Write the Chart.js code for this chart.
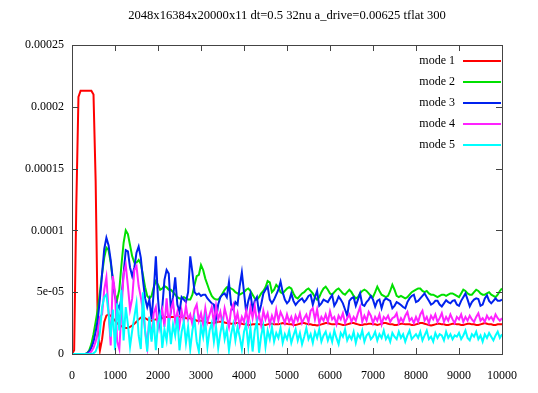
<!DOCTYPE html>
<html>
<head>
<meta charset="utf-8">
<script src="https://cdn.jsdelivr.net/npm/chart.js@4/dist/chart.umd.min.js"></script>
<style>
  html, body { margin: 0; padding: 0; background: #fff; }
  canvas { display: block; }
</style>
</head>
<body>
<canvas id="c" width="538" height="393"></canvas>
<script>
// amplitudes in units of 1e-5, sampled every 50 time units from 0 to 10000
var titleText = '2048x16384x20000x11 dt=0.5 32nu a_drive=0.00625 tflat 300';
var labels = ['mode 1', 'mode 2', 'mode 3', 'mode 4', 'mode 5'];
var colors = ['#ff0000', '#00e000', '#0022ee', '#ff22ff', '#00ffff'];
var yTickValues = [0, 5, 10, 15, 20, 25];
var yTickLabels = ['0', '5e-05', '0.0001', '0.00015', '0.0002', '0.00025'];

var mode1 = [
  0,0.3,12,20.8,21.3,21.3,21.3,21.3,21.3,21.3,21,14,2,0.3,1.2,2.6,3.1,3.2,3.1,2.9,
  2.7,2.5,2.35,2.25,2.15,2.1,2.1,2.2,2.3,2.45,2.6,2.8,2.95,3.0,2.9,2.8,2.7,2.7,2.75,2.8,
  2.8,2.9,2.9,3.0,3.0,3.0,3.0,3.0,3.0,3.0,3.0,3.0,3.0,2.9,2.9,2.9,2.8,2.8,2.7,2.7,
  2.7,2.65,2.6,2.55,2.5,2.5,2.5,2.55,2.6,2.6,2.6,2.55,2.5,2.5,2.45,2.45,2.5,2.5,2.5,2.45,
  2.4,2.4,2.35,2.35,2.4,2.4,2.45,2.4,2.4,2.35,2.35,2.4,2.45,2.45,2.4,2.4,2.4,2.45,2.5,2.45,
  2.45,2.4,2.4,2.35,2.35,2.4,2.45,2.5,2.5,2.45,2.4,2.4,2.35,2.35,2.3,2.35,2.4,2.45,2.5,2.5,
  2.45,2.4,2.4,2.45,2.45,2.4,2.35,2.35,2.4,2.45,2.5,2.5,2.45,2.4,2.35,2.35,2.4,2.4,2.45,2.45,
  2.4,2.4,2.35,2.4,2.45,2.5,2.5,2.45,2.4,2.4,2.35,2.35,2.4,2.45,2.45,2.4,2.4,2.4,2.35,2.35,
  2.4,2.45,2.5,2.5,2.45,2.4,2.35,2.3,2.35,2.4,2.45,2.45,2.4,2.4,2.35,2.35,2.4,2.45,2.45,2.4,
  2.4,2.35,2.35,2.4,2.45,2.45,2.4,2.4,2.35,2.35,2.4,2.45,2.5,2.45,2.4,2.4,2.35,2.35,2.4,2.4,
  2.4
];
var mode2 = [
  0,0,0,0,0,0,0,0.05,0.3,0.8,1.6,2.6,3.6,5.0,6.5,7.8,8.6,8.4,7.4,6.0,
  4.8,4.4,5.2,7.2,9.0,10.0,9.7,8.8,7.9,7.4,7.4,7.6,7.3,6.4,5.4,4.7,4.5,4.7,5.4,5.9,
  5.6,5.2,5.3,5.5,5.4,5.2,5.2,5.0,4.8,4.6,4.5,4.5,4.6,4.5,4.4,4.4,4.8,5.6,6.3,6.4,
  7.2,6.8,6.1,5.6,5.1,4.7,4.5,4.4,4.4,4.6,4.9,5.2,5.4,5.4,5.3,5.2,5.0,4.9,4.8,4.9,
  5.0,5.2,5.3,5.1,4.8,4.5,4.4,4.6,4.9,5.1,5.4,5.9,5.8,5.0,5.2,5.6,5.4,5.0,4.9,5.1,
  5.3,5.4,5.3,4.9,4.6,4.5,4.7,4.9,5.0,5.2,5.3,5.1,4.9,4.6,4.4,4.6,5.0,5.3,5.45,5.2,
  4.9,4.8,5.0,5.2,5.3,5.1,4.9,4.8,5.0,5.2,5.0,4.7,4.5,4.6,4.9,5.1,5.2,5.1,4.9,4.7,
  4.6,5.0,5.45,5.1,4.8,4.7,4.6,4.7,5.1,5.6,5.2,4.7,4.6,4.7,4.6,4.5,4.6,4.8,5.0,5.1,
  5.2,5.3,5.3,5.1,5.0,5.1,4.9,4.8,4.8,4.7,4.6,4.7,4.8,4.8,4.7,4.8,4.9,4.9,4.8,4.7,
  4.6,4.9,5.2,5.1,4.9,4.8,4.8,5.0,5.2,5.1,4.9,4.8,4.8,4.9,5.0,4.8,4.7,4.6,4.8,5.1,
  5.3
];
var mode3 = [
  0,0,0,0,0,0,0,0.05,0.2,0.5,1.0,1.8,2.8,4.5,6.5,8.5,9.4,8.8,7.6,6.0,
  4.6,4.0,3.7,4.5,6.5,8.4,8.3,7.0,6.3,7.0,8.2,8.7,7.8,6.0,4.5,3.8,4.4,2.8,5.0,7.9,
  4.5,2.4,3.8,6.0,6.8,6.5,3.5,4.6,6.2,4.0,3.4,4.6,4.4,4.2,5.0,7.9,6.6,5.0,4.8,4.9,
  4.7,4.8,4.8,4.5,4.3,4.1,4.0,2.8,4.0,4.6,4.8,4.9,4.6,5.8,4.0,3.6,4.2,4.0,5.5,6.6,
  5.0,3.4,4.3,4.9,3.6,4.3,4.6,3.3,4.0,4.9,5.2,5.45,4.4,4.1,4.4,4.8,5.2,5.85,5.0,4.4,
  4.1,4.3,4.9,4.3,3.97,4.2,4.37,4.5,4.2,4.4,4.7,4.8,4.0,4.6,5.1,3.9,4.1,4.4,4.3,4.2,
  4.5,4.77,3.9,4.2,4.64,4.4,4.1,3.6,3.1,4.3,4.5,4.6,3.9,4.4,4.9,4.0,3.9,4.2,4.4,4.7,
  4.4,3.83,4.3,4.4,3.7,4.3,4.5,4.4,4.3,3.7,3.9,4.2,4.1,3.97,3.8,3.7,4.2,4.5,4.7,4.8,
  4.2,4.3,4.5,4.7,4.9,4.6,4.3,4.0,4.1,4.3,4.3,4.0,3.85,4.1,4.35,4.2,4.1,4.3,4.35,4.0,
  3.9,4.3,4.6,4.9,4.4,3.85,4.2,4.4,4.5,4.45,3.9,4.0,4.5,4.75,4.3,4.1,4.3,4.5,4.3,4.3,
  4.4
];
var mode4 = [
  0,0,0,0,0,0,0,0,0.05,0.2,0.5,1.0,1.8,3.0,3.2,5.2,6.2,3.5,0.7,6.3,
  5.0,1.0,0.4,3.5,6.5,7.2,5.5,3.6,4.5,6.8,7.1,5.5,4.6,3.5,1.9,0.6,3.0,1.2,3.3,3.8,
  2.1,3.0,3.6,2.2,4.5,2.4,3.6,4.2,2.6,3.4,2.3,3.5,2.6,3.9,2.8,3.2,2.4,3.6,4.0,2.7,
  3.3,2.4,3.7,2.6,3.2,3.8,2.5,3.9,2.8,3.4,2.4,3.7,3.0,2.2,3.6,4.0,2.6,3.3,2.3,3.0,
  2.6,3.5,2.5,3.8,2.9,3.9,2.6,3.2,2.3,3.5,2.8,3.3,2.4,3.1,2.6,3.6,2.7,3.4,3.0,2.5,
  3.2,2.6,3.0,2.4,3.1,2.7,3.3,2.5,2.9,3.2,2.6,3.5,3.7,2.8,3.6,2.5,3.0,2.7,3.2,2.6,
  3.45,2.8,3.0,2.4,3.1,2.8,3.3,2.5,2.9,3.2,2.6,3.0,2.7,3.3,3.8,2.6,3.1,2.7,3.4,3.1,
  2.5,3.0,2.7,3.2,2.4,3.0,2.8,3.1,2.6,2.9,3.0,3.3,2.5,2.9,2.6,3.1,3.4,2.7,2.9,2.5,
  3.0,2.6,3.2,3.5,2.7,3.0,2.5,3.1,2.8,3.2,2.6,2.9,3.3,2.6,3.0,2.7,3.2,2.8,2.5,3.0,
  2.8,3.2,2.6,3.0,2.7,3.1,2.8,2.6,3.0,3.3,2.7,2.9,2.6,3.1,2.8,3.0,2.7,3.2,2.9,2.7,
  2.9
];
var mode5 = [
  0,0,0,0,0,0,0,0,0,0,0.05,0.2,0.7,1.8,3.8,4.6,4.8,3.3,1.4,3.6,
  0.3,4.1,1.9,5.2,1.1,3.8,2.4,0.6,1.9,3.0,4.1,1.5,0.4,5.0,1.8,0.2,3.0,1.0,2.8,0.3,
  2.5,3.2,0.5,2.0,1.1,2.9,0.8,2.4,1.5,3.0,0.3,1.8,2.6,0.9,2.2,0.4,1.9,2.8,1.0,0.2,
  2.3,1.4,2.7,0.6,1.9,2.5,1.0,2.2,0.5,1.7,2.6,1.2,2.0,0.3,1.6,2.4,1.1,2.2,1.4,0.4,
  1.8,2.4,0.6,2.1,0.2,1.9,2.6,0.1,1.5,2.3,0.6,1.9,1.2,2.2,1.0,1.7,1.3,2.1,0.9,1.6,
  1.2,1.9,0.9,1.5,2.0,1.1,1.7,0.8,1.4,2.1,1.2,1.6,0.9,1.8,1.3,2.0,1.0,1.5,1.8,1.1,
  1.6,1.0,1.9,1.3,0.8,1.7,1.4,2.0,1.1,1.5,1.2,1.8,0.9,1.6,1.3,1.9,1.0,1.5,1.7,1.2,
  1.4,1.8,1.1,1.6,1.3,1.9,1.2,1.5,1.0,1.7,1.4,1.2,1.8,1.3,1.6,1.0,1.5,1.9,1.2,1.4,
  1.6,1.3,1.8,1.1,1.5,1.9,1.2,1.4,1.0,1.7,1.3,1.6,1.5,1.1,1.8,1.3,1.6,1.2,1.5,1.4,
  1.7,1.2,1.5,1.9,1.3,1.1,1.6,1.4,1.8,1.2,1.5,1.0,1.6,1.3,1.7,1.4,1.1,1.5,1.8,1.3,
  1.6
];

var series = [mode1, mode2, mode3, mode4, mode5];
var times = [];
for (var t = 0; t <= 10000; t += 50) times.push(t);

var font = { family: 'Liberation Serif', size: 12, weight: 'normal' };

var datasets = series.map(function (s, k) {
  return {
    label: labels[k],
    data: times.map(function (tt, i) { return { x: tt, y: s[i] }; }),
    borderColor: colors[k],
    borderWidth: 2,
    pointRadius: 0,
    tension: 0,
    fill: false,
    order: 5 - k
  };
});

// gnuplot-ish frame: full border, inward ticks, key on the right
var frame = {
  id: 'frame',
  afterDatasetsDraw: function (chart) {
    var ctx = chart.ctx, a = chart.chartArea;
    var xs = chart.scales.x, ys = chart.scales.y;
    ctx.save();
    ctx.strokeStyle = '#444';
    ctx.lineWidth = 1;
    ctx.strokeRect(Math.round(a.left) + 0.5, Math.round(a.top) + 0.5,
      Math.round(a.right - a.left), Math.round(a.bottom - a.top));
    ctx.beginPath();
    xs.ticks.forEach(function (tk) {
      var px = Math.round(xs.getPixelForValue(tk.value)) + 0.5;
      ctx.moveTo(px, a.bottom); ctx.lineTo(px, a.bottom - 6);
      ctx.moveTo(px, a.top); ctx.lineTo(px, a.top + 6);
    });
    ys.ticks.forEach(function (tk) {
      var py = Math.round(ys.getPixelForValue(tk.value)) + 0.5;
      ctx.moveTo(a.left, py); ctx.lineTo(a.left + 6, py);
      ctx.moveTo(a.right, py); ctx.lineTo(a.right - 6, py);
    });
    ctx.stroke();

    ctx.font = '12px "Liberation Serif"';
    ctx.textAlign = 'right';
    ctx.textBaseline = 'middle';
    chart.data.datasets.forEach(function (ds, k) {
      var y = a.top + 16 + k * 21;
      ctx.fillStyle = '#000';
      ctx.fillText(ds.label, a.right - 47, y);
      ctx.strokeStyle = ds.borderColor;
      ctx.lineWidth = 2;
      ctx.beginPath();
      ctx.moveTo(a.right - 39, y);
      ctx.lineTo(a.right - 1, y);
      ctx.stroke();
    });
    ctx.restore();
  }
};

new Chart(document.getElementById('c'), {
  type: 'line',
  data: { datasets: datasets },
  plugins: [frame],
  options: {
    responsive: false,
    animation: false,
    devicePixelRatio: 1,
    layout: { padding: { left: 0, right: 36, top: 0, bottom: 0 } },
    plugins: {
      legend: { display: false },
      tooltip: { enabled: false },
      title: {
        display: true,
        text: titleText,
        fullSize: false,
        color: '#000',
        font: { family: 'Liberation Serif', size: 12.6, weight: 'normal' },
        padding: { top: 8, bottom: 21.9 }
      }
    },
    scales: {
      x: {
        type: 'linear',
        min: 0,
        max: 10000,
        grid: { display: false, drawTicks: false },
        border: { display: false },
        ticks: {
          stepSize: 1000, color: '#000', font: font, padding: 15, maxRotation: 0, autoSkip: false,
          callback: function (v) { return String(v); }
        },
        afterFit: function (s) { s.height = 39; }
      },
      y: {
        type: 'linear',
        min: 0,
        max: 25,
        grid: { display: false, drawTicks: false },
        border: { display: false },
        ticks: {
          stepSize: 5,
          color: '#000',
          font: font,
          padding: 8,
          callback: function (v) { return yTickLabels[yTickValues.indexOf(v)]; }
        },
        afterFit: function (s) { s.width = 72; }
      }
    }
  }
});
</script>
</body>
</html>
